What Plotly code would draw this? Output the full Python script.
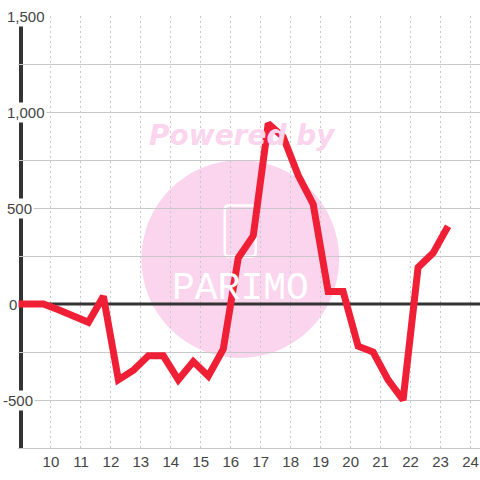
import plotly.graph_objects as go

hours = [8.9, 9.25, 9.75, 10.25, 10.75, 11.25, 11.75, 12.25, 12.75, 13.25, 13.75, 14.25, 14.75,
         15.25, 15.75, 16.25, 16.75, 17.25, 17.75, 18.25, 18.75, 19.25, 19.75, 20.25, 20.75,
         21.25, 21.75, 22.25, 22.75, 23.25]
values = [0, 0, 0, -30, -65, -95, 40, -395, -345, -270, -270, -395, -300,
          -375, -235, 240, 355, 940, 870, 670, 520, 65, 65, -220, -250,
          -395, -500, 190, 265, 405]
x_ticks = list(range(10, 25))
y_values = [1500, 1000, 500, 0, -500]
y_text = ["1,500", "1,000", "500", "0", "-500"]

W = 480
L, R, T, B = 17.5, 480, 16, 448
def px(x): return (x - L) / (R - L)
def py(y): return 1 - (y - T) / (B - T)

label_left = {"1,500": 4, "1,000": 4, "500": 4, "0": 6, "-500": 0}

# rounded icon outline of the watermark
ix0, ix1, iy0, iy1, r = 224.5, 255.5, 205.5, 256.5, 4
icon = (f"M {px(ix0 + r)} {py(iy0)} L {px(ix1 - r)} {py(iy0)} Q {px(ix1)} {py(iy0)} {px(ix1)} {py(iy0 + r)} "
        f"L {px(ix1)} {py(iy1 - r)} Q {px(ix1)} {py(iy1)} {px(ix1 - r)} {py(iy1)} "
        f"L {px(ix0 + r)} {py(iy1)} Q {px(ix0)} {py(iy1)} {px(ix0)} {py(iy1 - r)} "
        f"L {px(ix0)} {py(iy0 + r)} Q {px(ix0)} {py(iy0)} {px(ix0 + r)} {py(iy0)} Z")

fig = go.Figure()
fig.add_trace(go.Scatter(x=hours, y=values, mode="lines", cliponaxis=False, hoverinfo="skip",
                         line=dict(color="#EF2036", width=7, shape="linear")))

shapes = [
    dict(type="circle", xref="paper", yref="paper", layer="below",
         x0=px(141), x1=px(339), y0=py(358), y1=py(160),
         fillcolor="#FBD5EE", line=dict(width=0)),
    dict(type="path", xref="paper", yref="paper", path=icon, layer="below",
         line=dict(color="white", width=2.5), fillcolor="rgba(0,0,0,0)"),
    dict(type="line", xref="x", yref="y", x0=9, x1=24.317, y0=0, y1=0, layer="between",
         line=dict(color="#333333", width=3)),
    dict(type="line", xref="x", yref="paper", x0=9, x1=9, y0=0, y1=py(24),
         layer="between", line=dict(color="#333333", width=4)),
]

annotations = [
    dict(text="Powered by", xref="paper", yref="paper", x=px(242), y=py(135), yanchor="middle",
         showarrow=False,
         font=dict(family="DejaVu Sans", size=28, color="#FBD5EE", weight="bold", style="italic")),
    dict(text="PARIMO", xref="paper", yref="paper", x=px(240), y=py(288), yanchor="middle",
         showarrow=False, font=dict(family="Liberation Mono", size=38, color="white")),
]
for v, label in zip(y_values, y_text):
    annotations.append(dict(text=label, xref="paper", yref="y", x=px(label_left[label]), xanchor="left",
                            y=v, yanchor="middle", showarrow=False, bgcolor="white", borderpad=1,
                            font=dict(family="Liberation Sans", size=15, color="#444444")))

fig.update_layout(
    width=480, height=480,
    margin=dict(l=L, r=W - R, t=T, b=W - B),
    paper_bgcolor="white", plot_bgcolor="rgba(0,0,0,0)",
    showlegend=False, shapes=shapes, annotations=annotations,
    xaxis=dict(range=[8.9, 24.317], tickmode="array", tickvals=x_ticks, ticktext=[str(t) for t in x_ticks],
               showgrid=True, gridcolor="#C8C8C8", griddash="2px,3px", gridwidth=1,
               zeroline=False, showline=True, linecolor="#C8C8C8", linewidth=1, ticks="",
               tickfont=dict(family="Liberation Sans", size=15, color="#444444"), layer="below traces"),
    yaxis=dict(range=[-750, 1500], tickmode="array", tickvals=list(range(-500, 1501, 250)),
               showticklabels=False, showgrid=True, gridcolor="#C8C8C8", gridwidth=1,
               zeroline=False, ticks="", layer="below traces"),
)
fig.write_html("out.html", config=dict(displayModeBar=False),
               post_script="document.body.style.margin='0';"
                           "document.querySelectorAll('.js-line').forEach(function(p){"
                           "p.style.strokeLinejoin='miter';p.style.strokeMiterlimit='2';});")
